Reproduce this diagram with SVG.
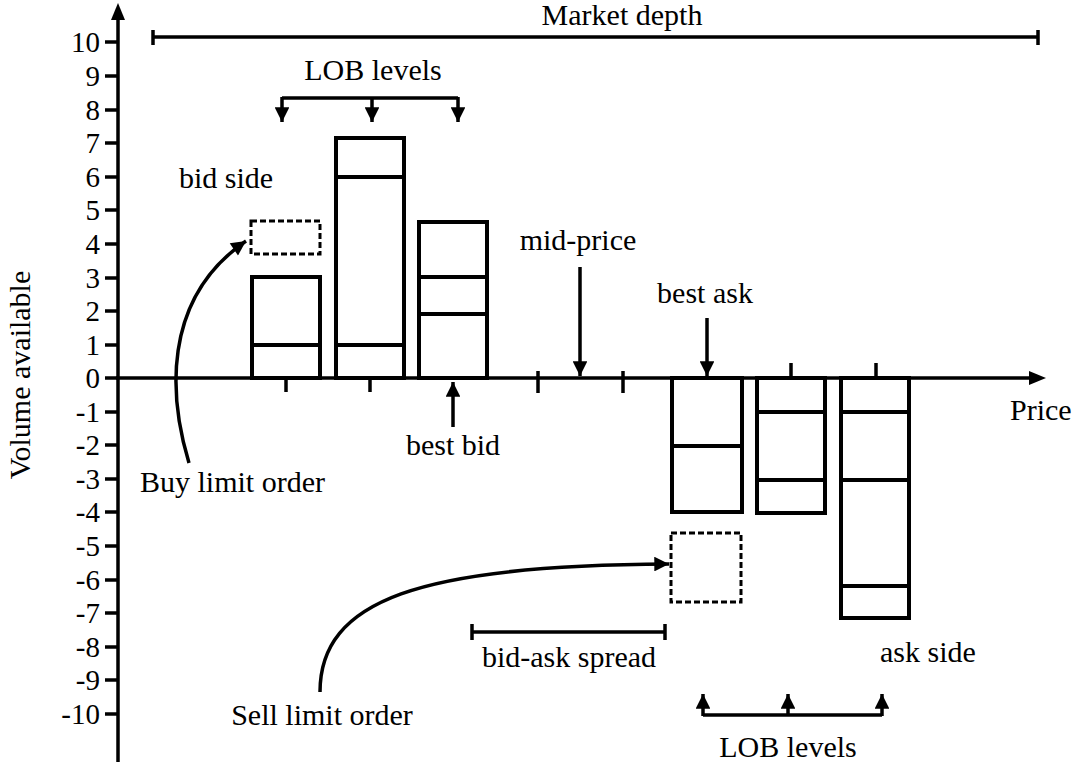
<svg xmlns="http://www.w3.org/2000/svg" width="1080" height="775" viewBox="0 0 1080 775">
<defs>
<marker id="ah" viewBox="0 0 10 10" refX="10" refY="5" markerWidth="4.5" markerHeight="4.2" markerUnits="strokeWidth" orient="auto">
<path d="M0,0 L10,5 L0,10 z" fill="#000"/>
</marker>
</defs>
<rect width="1080" height="775" fill="#fff"/>
<g id="axes">
<g stroke="#000" stroke-width="3.5" fill="none">
<line x1="118" y1="762" x2="118" y2="18"/>
<line x1="116" y1="378" x2="1030" y2="378"/>
<line x1="105" y1="42" x2="118" y2="42"/><line x1="105" y1="76" x2="118" y2="76"/><line x1="105" y1="110" x2="118" y2="110"/><line x1="105" y1="143" x2="118" y2="143"/><line x1="105" y1="177" x2="118" y2="177"/><line x1="105" y1="210" x2="118" y2="210"/><line x1="105" y1="244" x2="118" y2="244"/><line x1="105" y1="278" x2="118" y2="278"/><line x1="105" y1="311" x2="118" y2="311"/><line x1="105" y1="345" x2="118" y2="345"/><line x1="105" y1="378" x2="118" y2="378"/><line x1="105" y1="412" x2="118" y2="412"/><line x1="105" y1="445" x2="118" y2="445"/><line x1="105" y1="479" x2="118" y2="479"/><line x1="105" y1="512" x2="118" y2="512"/><line x1="105" y1="546" x2="118" y2="546"/><line x1="105" y1="580" x2="118" y2="580"/><line x1="105" y1="613" x2="118" y2="613"/><line x1="105" y1="647" x2="118" y2="647"/><line x1="105" y1="680" x2="118" y2="680"/><line x1="105" y1="714" x2="118" y2="714"/>
<line x1="286" y1="378" x2="286" y2="392"/><line x1="370" y1="378" x2="370" y2="392"/>
<line x1="538" y1="371" x2="538" y2="393"/><line x1="623" y1="371" x2="623" y2="393"/>
<line x1="791" y1="363" x2="791" y2="378"/><line x1="876" y1="363" x2="876" y2="378"/>
</g>
<path d="M118,3 L111,20 L125,20 z" fill="#000"/>
<path d="M1046,378 L1029,371 L1029,385 z" fill="#000"/>
<text font-family="Liberation Serif" font-size="29" text-anchor="end" x="100" y="52">10</text><text font-family="Liberation Serif" font-size="29" text-anchor="end" x="100" y="86">9</text><text font-family="Liberation Serif" font-size="29" text-anchor="end" x="100" y="120">8</text><text font-family="Liberation Serif" font-size="29" text-anchor="end" x="100" y="153">7</text><text font-family="Liberation Serif" font-size="29" text-anchor="end" x="100" y="187">6</text><text font-family="Liberation Serif" font-size="29" text-anchor="end" x="100" y="220">5</text><text font-family="Liberation Serif" font-size="29" text-anchor="end" x="100" y="254">4</text><text font-family="Liberation Serif" font-size="29" text-anchor="end" x="100" y="288">3</text><text font-family="Liberation Serif" font-size="29" text-anchor="end" x="100" y="321">2</text><text font-family="Liberation Serif" font-size="29" text-anchor="end" x="100" y="355">1</text><text font-family="Liberation Serif" font-size="29" text-anchor="end" x="100" y="388">0</text><text font-family="Liberation Serif" font-size="29" text-anchor="end" x="100" y="422">-1</text><text font-family="Liberation Serif" font-size="29" text-anchor="end" x="100" y="455">-2</text><text font-family="Liberation Serif" font-size="29" text-anchor="end" x="100" y="489">-3</text><text font-family="Liberation Serif" font-size="29" text-anchor="end" x="100" y="522">-4</text><text font-family="Liberation Serif" font-size="29" text-anchor="end" x="100" y="556">-5</text><text font-family="Liberation Serif" font-size="29" text-anchor="end" x="100" y="590">-6</text><text font-family="Liberation Serif" font-size="29" text-anchor="end" x="100" y="623">-7</text><text font-family="Liberation Serif" font-size="29" text-anchor="end" x="100" y="657">-8</text><text font-family="Liberation Serif" font-size="29" text-anchor="end" x="100" y="690">-9</text><text font-family="Liberation Serif" font-size="29" text-anchor="end" x="100" y="724">-10</text>
<text font-family="Liberation Serif" font-size="30" x="30" y="375" text-anchor="middle" transform="rotate(-90 30 375)">Volume available</text>
<text font-family="Liberation Serif" font-size="30" x="1010" y="420">Price</text>
</g>
<g id="market-depth">
<g stroke="#000" stroke-width="3.5" fill="none">
<line x1="153" y1="37" x2="1038" y2="37"/>
<line x1="153" y1="30" x2="153" y2="45"/>
<line x1="1038" y1="30" x2="1038" y2="45"/>
</g>
<text font-family="Liberation Serif" font-size="30" x="622" y="25" text-anchor="middle">Market depth</text>
</g>
<g id="lob-levels-bid">
<text font-family="Liberation Serif" font-size="30" x="373" y="80" text-anchor="middle">LOB levels</text>
<g stroke="#000" stroke-width="3.5" fill="none">
<path d="M282,98 L458,98"/>
<path d="M282,97 V122" marker-end="url(#ah)"/>
<path d="M372,97 V122" marker-end="url(#ah)"/>
<path d="M458,97 V122" marker-end="url(#ah)"/>
</g>
</g>
<g id="bid-side">
<text font-family="Liberation Serif" font-size="30" x="179" y="188">bid side</text>
<g stroke="#000" stroke-width="4" fill="none">
<rect x="252" y="277" width="68" height="101"/>
<line x1="252" y1="345" x2="320" y2="345"/>
<rect x="336" y="138" width="68" height="240"/>
<line x1="336" y1="177" x2="404" y2="177"/>
<line x1="336" y1="345" x2="404" y2="345"/>
<rect x="419" y="222" width="68" height="156"/>
<line x1="419" y1="277" x2="487" y2="277"/>
<line x1="419" y1="314" x2="487" y2="314"/>
</g>
</g>
<g id="buy-order">
<rect x="251" y="221" width="69" height="33" stroke="#000" stroke-width="3" fill="none" stroke-dasharray="6 3"/>
<path d="M189,463 C170,400 160,300 246,241" stroke="#000" stroke-width="3.5" fill="none" marker-end="url(#ah)"/>
<text font-family="Liberation Serif" font-size="30" x="140" y="492">Buy limit order</text>
</g>
<g id="best-bid">
<path d="M453,427 V382" stroke="#000" stroke-width="3.5" fill="none" marker-end="url(#ah)"/>
<text font-family="Liberation Serif" font-size="30" x="453" y="455" text-anchor="middle">best bid</text>
</g>
<g id="mid-price">
<text font-family="Liberation Serif" font-size="30" x="578" y="250" text-anchor="middle">mid-price</text>
<path d="M580,267 V376" stroke="#000" stroke-width="3.5" fill="none" marker-end="url(#ah)"/>
</g>
<g id="best-ask">
<text font-family="Liberation Serif" font-size="30" x="705" y="303" text-anchor="middle">best ask</text>
<path d="M707,318 V376" stroke="#000" stroke-width="3.5" fill="none" marker-end="url(#ah)"/>
</g>
<g id="ask-side">
<g stroke="#000" stroke-width="4" fill="none">
<rect x="672" y="378" width="70" height="134"/>
<line x1="672" y1="446" x2="742" y2="446"/>
<rect x="757" y="378" width="68" height="135"/>
<line x1="757" y1="412" x2="825" y2="412"/>
<line x1="757" y1="480" x2="825" y2="480"/>
<rect x="841" y="378" width="68" height="240"/>
<line x1="841" y1="412" x2="909" y2="412"/>
<line x1="841" y1="480" x2="909" y2="480"/>
<line x1="841" y1="586" x2="909" y2="586"/>
</g>
<text font-family="Liberation Serif" font-size="30" x="880" y="662">ask side</text>
</g>
<g id="sell-order">
<rect x="671" y="533" width="70" height="69" stroke="#000" stroke-width="3" fill="none" stroke-dasharray="6 3"/>
<path d="M320,692 C320,600 420,565 669,564" stroke="#000" stroke-width="3.5" fill="none" marker-end="url(#ah)"/>
<text font-family="Liberation Serif" font-size="30" x="322" y="725" text-anchor="middle">Sell limit order</text>
</g>
<g id="spread">
<g stroke="#000" stroke-width="3.5" fill="none">
<line x1="472" y1="632" x2="665" y2="632"/>
<line x1="472" y1="624" x2="472" y2="640"/>
<line x1="665" y1="624" x2="665" y2="640"/>
</g>
<text font-family="Liberation Serif" font-size="30" x="569" y="667" text-anchor="middle">bid-ask spread</text>
</g>
<g id="lob-levels-ask">
<g stroke="#000" stroke-width="3.5" fill="none">
<path d="M703,715 L882,715"/>
<path d="M703,716 V694" marker-end="url(#ah)"/>
<path d="M788,716 V694" marker-end="url(#ah)"/>
<path d="M882,716 V694" marker-end="url(#ah)"/>
</g>
<text font-family="Liberation Serif" font-size="30" x="788" y="757" text-anchor="middle">LOB levels</text>
</g>
</svg>
